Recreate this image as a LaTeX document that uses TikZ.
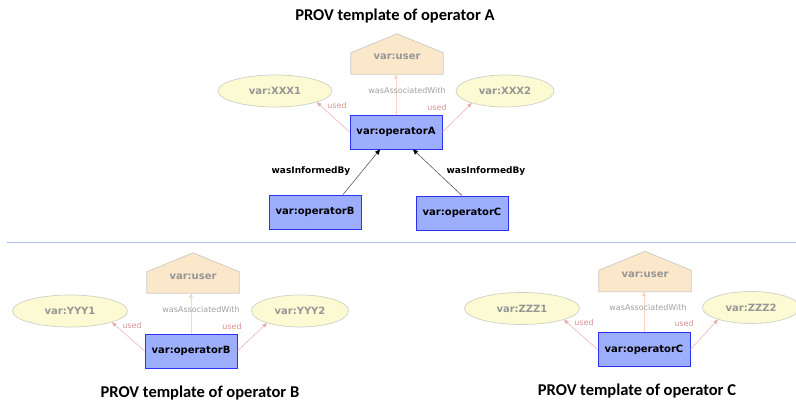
\documentclass[tikz,border=0pt]{standalone}
\usepackage{fontspec}
\setmainfont{DejaVu Sans}
\newfontfamily\titlefont{Carlito}
\usetikzlibrary{arrows.meta,shapes.geometric,backgrounds}

\definecolor{actfill}{RGB}{157,174,253}
\definecolor{actborder}{RGB}{45,50,240}
\definecolor{entfill}{RGB}{251,250,210}
\definecolor{entborder}{RGB}{208,208,200}
\definecolor{agentfill}{RGB}{251,232,202}
\definecolor{agentborder}{RGB}{205,200,195}
\definecolor{fadetext}{RGB}{150,150,150}
\definecolor{usedline}{RGB}{232,172,172}
\definecolor{usedtext}{RGB}{215,145,145}
\definecolor{assocline}{RGB}{250,212,190}
\definecolor{assoctext}{RGB}{160,160,160}
\definecolor{informline}{RGB}{90,90,90}
\definecolor{sepline}{RGB}{170,190,240}

\begin{document}
\begin{tikzpicture}[x=1pt,y=1pt,
  activity/.style={rectangle, draw=actborder, fill=actfill, line width=0.9pt,
    minimum width=92pt, minimum height=34pt, inner sep=0pt,
    font=\bfseries\fontsize{10}{12}\selectfont, text=black},
  entity/.style={ellipse, draw=entborder, fill=entfill, line width=0.7pt,
    minimum height=32pt, inner sep=0pt,
    font=\bfseries\fontsize{10}{12}\selectfont, text=fadetext},
  agentbox/.style={rectangle, minimum width=92pt, minimum height=40pt, inner sep=0pt},
  agenttext/.style={inner sep=0pt, font=\bfseries\fontsize{10}{12}\selectfont, text=fadetext},
  housepath/.style={draw=agentborder, fill=agentfill, line width=0.7pt},
  usedarrow/.style={draw=usedline, line width=0.5pt, -{Triangle[length=4.5pt,width=4pt]}},
  usedlbl/.style={inner sep=0pt, font=\fontsize{8}{9}\selectfont, text=usedtext},
  assocarrow/.style={draw=assocline, line width=0.5pt, -{Triangle[length=4.5pt,width=4pt]}},
  assoclbl/.style={inner sep=0pt, font=\fontsize{8}{9}\selectfont, text=assoctext},
  informed/.style={draw=informline, line width=0.6pt, -{Triangle[length=5pt,width=4.5pt,black]}},
  informlbl/.style={inner sep=0pt, font=\bfseries\fontsize{9}{11}\selectfont},
  titlelbl/.style={inner sep=0pt, font=\titlefont\bfseries\fontsize{16.5}{19}\selectfont}
]
\useasboundingbox (0,0) rectangle (796,403);

% ---------- template of operator A ----------
\node[titlelbl] (tA) at (395,387) {PROV template of operator A};
\node[agentbox] (uA) at (397,349) {};
\node[agenttext] (uAt) at (397,346) {var:user};
\node[entity, minimum width=114pt] (x1) at (275,312) {var:XXX1};
\node[entity, minimum width=98pt] (x2) at (505,312) {var:XXX2};
\node[activity] (opA) at (396,271) {var:operatorA};
\node[activity] (opB) at (315,191) {var:operatorB};
\node[activity] (opC) at (462,190) {var:operatorC};

\draw[assocarrow] (opA.north) -- (opA.north |- uA.south);
\draw[usedarrow] (opA.west) -- (x1.-15);
\draw[usedarrow] (opA.east) -- (x2.200);
\node[assoclbl] (aA) at (407,312) {wasAssociatedWith};
\node[usedlbl] (uA1) at (337,297) {used};
\node[usedlbl] (uA2) at (437,295) {used};

\draw[informed] ([xshift=28pt]opB.north) -- ([xshift=-16pt]opA.south);
\draw[informed] (opC.north) -- ([xshift=17pt]opA.south);
\node[informlbl] (iB) at (311,232) {wasInformedBy};
\node[informlbl] (iC) at (486,232) {wasInformedBy};

% ---------- separator ----------
\coordinate (sepL) at (7,161);
\coordinate (sepR) at (796,161);
\draw[sepline, line width=0.6pt] (sepL) -- (sepR);

% ---------- template of operator B ----------
\node[agentbox] (uB) at (193,130) {};
\node[agenttext] (uBt) at (193,126.5) {var:user};
\node[entity, minimum width=115pt] (y1) at (70,92) {var:YYY1};
\node[entity, minimum width=97pt] (y2) at (300,92) {var:YYY2};
\node[activity] (opB2) at (191,52) {var:operatorB};
\draw[assocarrow] (opB2.north) -- (opB2.north |- uB.south);
\draw[usedarrow] (opB2.west) -- (y1.-15);
\draw[usedarrow] (opB2.east) -- (y2.200);
\node[assoclbl] (aB) at (201,93) {wasAssociatedWith};
\node[usedlbl] (uB1) at (132,77) {used};
\node[usedlbl] (uB2) at (232,76) {used};
\node[titlelbl] (tB) at (200,10) {PROV template of operator B};

% ---------- template of operator C ----------
\node[agentbox] (uC) at (645,131.5) {};
\node[agenttext] (uCt) at (645,128) {var:user};
\node[entity, minimum width=115pt] (z1) at (522,94.5) {var:ZZZ1};
\node[entity, minimum width=97pt] (z2) at (751,95.5) {var:ZZZ2};
\node[activity] (opC2) at (644,53.5) {var:operatorC};
\draw[assocarrow] (opC2.north) -- (opC2.north |- uC.south);
\draw[usedarrow] (opC2.west) -- (z1.-15);
\draw[usedarrow] (opC2.east) -- (z2.200);
\node[assoclbl] (aC) at (648,95) {wasAssociatedWith};
\node[usedlbl] (uC1) at (584,80) {used};
\node[usedlbl] (uC2) at (684,79) {used};
\node[titlelbl] (tC) at (637,12) {PROV template of operator C};

% ---------- agent houses, behind their labels ----------
\begin{scope}[on background layer]
  \foreach \u in {uA,uB,uC}
    \draw[housepath] (\u.south west) -- ([yshift=-19pt]\u.north west) -- (\u.north)
      -- ([yshift=-19pt]\u.north east) -- (\u.south east) -- cycle;
\end{scope}
\end{tikzpicture}
\end{document}
